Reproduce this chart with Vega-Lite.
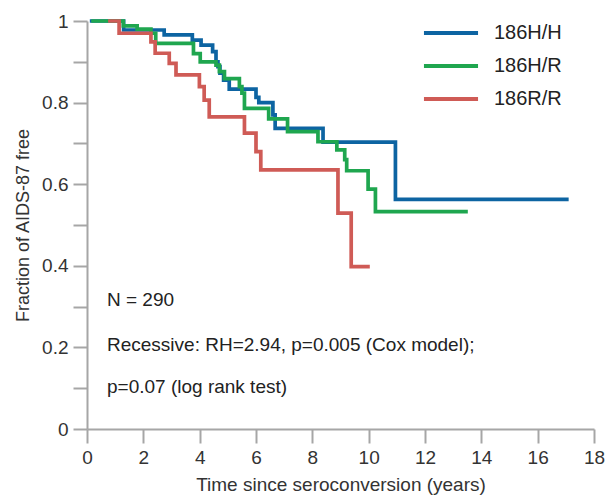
{
  "$schema": "https://vega.github.io/schema/vega-lite/v6.json",
  "width": 507,
  "height": 408,
  "autosize": {"type": "none"},
  "padding": {"left": 87, "top": 21, "right": 13, "bottom": 67},
  "background": "white",
  "config": {"view": {"stroke": null}, "font": "Liberation Sans"},
  "datasets": {
    "km": [
      {"g": "186H/H", "t": 0.1, "s": 1.0},
      {"g": "186H/H", "t": 1.3, "s": 0.978},
      {"g": "186H/H", "t": 2.74, "s": 0.966},
      {"g": "186H/H", "t": 3.74, "s": 0.953},
      {"g": "186H/H", "t": 4.05, "s": 0.941},
      {"g": "186H/H", "t": 4.46, "s": 0.925},
      {"g": "186H/H", "t": 4.58, "s": 0.9},
      {"g": "186H/H", "t": 4.65, "s": 0.888},
      {"g": "186H/H", "t": 4.72, "s": 0.872},
      {"g": "186H/H", "t": 4.85, "s": 0.855},
      {"g": "186H/H", "t": 5.05, "s": 0.833},
      {"g": "186H/H", "t": 6.0, "s": 0.813},
      {"g": "186H/H", "t": 6.1, "s": 0.8},
      {"g": "186H/H", "t": 6.6, "s": 0.77},
      {"g": "186H/H", "t": 6.68, "s": 0.737},
      {"g": "186H/H", "t": 8.38, "s": 0.703},
      {"g": "186H/H", "t": 10.95, "s": 0.563},
      {"g": "186H/H", "t": 17.1, "s": 0.563},
      {"g": "186H/R", "t": 0.15, "s": 1.0},
      {"g": "186H/R", "t": 1.29, "s": 0.988},
      {"g": "186H/R", "t": 1.78, "s": 0.98},
      {"g": "186H/R", "t": 2.27, "s": 0.97},
      {"g": "186H/R", "t": 2.44, "s": 0.945},
      {"g": "186H/R", "t": 3.78, "s": 0.92},
      {"g": "186H/R", "t": 4.02, "s": 0.9},
      {"g": "186H/R", "t": 4.58, "s": 0.892},
      {"g": "186H/R", "t": 4.7, "s": 0.876},
      {"g": "186H/R", "t": 4.88, "s": 0.859},
      {"g": "186H/R", "t": 5.41, "s": 0.839},
      {"g": "186H/R", "t": 5.5, "s": 0.823},
      {"g": "186H/R", "t": 5.59, "s": 0.786},
      {"g": "186H/R", "t": 6.45, "s": 0.76},
      {"g": "186H/R", "t": 7.12, "s": 0.729},
      {"g": "186H/R", "t": 8.2, "s": 0.704},
      {"g": "186H/R", "t": 8.87, "s": 0.684},
      {"g": "186H/R", "t": 9.15, "s": 0.66},
      {"g": "186H/R", "t": 9.22, "s": 0.633},
      {"g": "186H/R", "t": 9.98, "s": 0.588},
      {"g": "186H/R", "t": 10.24, "s": 0.533},
      {"g": "186H/R", "t": 13.52, "s": 0.533},
      {"g": "186R/R", "t": 0.75, "s": 1.0},
      {"g": "186R/R", "t": 1.14, "s": 0.97},
      {"g": "186R/R", "t": 2.27, "s": 0.949},
      {"g": "186R/R", "t": 2.42, "s": 0.921},
      {"g": "186R/R", "t": 2.92, "s": 0.896},
      {"g": "186R/R", "t": 3.16, "s": 0.868},
      {"g": "186R/R", "t": 3.99, "s": 0.839},
      {"g": "186R/R", "t": 4.16, "s": 0.806},
      {"g": "186R/R", "t": 4.34, "s": 0.765},
      {"g": "186R/R", "t": 5.59, "s": 0.725},
      {"g": "186R/R", "t": 6.0, "s": 0.68},
      {"g": "186R/R", "t": 6.17, "s": 0.635},
      {"g": "186R/R", "t": 8.91, "s": 0.529},
      {"g": "186R/R", "t": 9.38, "s": 0.398},
      {"g": "186R/R", "t": 10.04, "s": 0.398}
    ],
    "notes": [
      {"x": 0.71, "y": 0.315, "label": "N = 290"},
      {"x": 0.71, "y": 0.206, "label": "Recessive: RH=2.94, p=0.005 (Cox model);"},
      {"x": 0.71, "y": 0.103, "label": "p=0.07 (log rank test)"}
    ]
  },
  "layer": [
    {
      "data": {"name": "km"},
      "mark": {"type": "line", "interpolate": "step-after", "strokeWidth": 3.7},
      "encoding": {
        "x": {
          "field": "t", "type": "quantitative",
          "scale": {"domain": [0, 18], "nice": false, "zero": false},
          "axis": {
            "values": [0,1,2,3,4,5,6,7,8,9,10,11,12,13,14,15,16,17,18],
            "labelExpr": "datum.value % 2 == 0 ? datum.label : ''",
            "tickSize": {"condition": {"test": "datum.value % 2 == 0", "value": 14}, "value": 8},
            "grid": false,
            "domainColor": "#a6a6a6", "tickColor": "#a6a6a6",
            "domainWidth": 2, "tickWidth": 2,
            "labelFontSize": 19, "labelColor": "#333", "labelPadding": 5,
            "labelFlush": false, "labelOverlap": false,
            "title": "Time since seroconversion (years)",
            "titleFontSize": 19, "titleFontWeight": "normal", "titleColor": "#333", "titlePadding": 8
          }
        },
        "y": {
          "field": "s", "type": "quantitative",
          "scale": {"domain": [0, 1], "nice": false},
          "axis": {
            "values": [0, 0.1, 0.2, 0.3, 0.4, 0.5, 0.6, 0.7, 0.8, 0.9, 1],
            "labelExpr": "round(datum.value*10) % 2 == 0 ? format(datum.value, '~g') : ''",
            "tickSize": 14,
            "grid": false,
            "domainColor": "#a6a6a6", "tickColor": "#a6a6a6",
            "domainWidth": 2, "tickWidth": 2,
            "labelFontSize": 19, "labelColor": "#333", "labelPadding": 5,
            "labelFlush": false, "labelOverlap": false,
            "title": "Fraction of AIDS-87 free",
            "titleFontSize": 18, "titleFontWeight": "normal", "titleColor": "#333", "titlePadding": 9
          }
        },
        "color": {
          "field": "g", "type": "nominal",
          "scale": {"domain": ["186H/H", "186H/R", "186R/R"], "range": ["#0d64a2", "#1fa64f", "#cf5b56"]},
          "legend": {
            "orient": "none", "legendX": 354, "legendY": 2, "padding": 0,
            "title": null,
            "symbolType": "M-5,0H5", "symbolSize": 117, "symbolStrokeWidth": 4,
            "labelFontSize": 20, "labelColor": "#222", "labelOffset": 33,
            "rowPadding": 13
          }
        }
      }
    },
    {
      "data": {"name": "notes"},
      "mark": {"type": "text", "align": "left", "baseline": "middle", "fontSize": 19, "color": "#222"},
      "encoding": {
        "x": {"field": "x", "type": "quantitative"},
        "y": {"field": "y", "type": "quantitative"},
        "text": {"field": "label"}
      }
    }
  ]
}
